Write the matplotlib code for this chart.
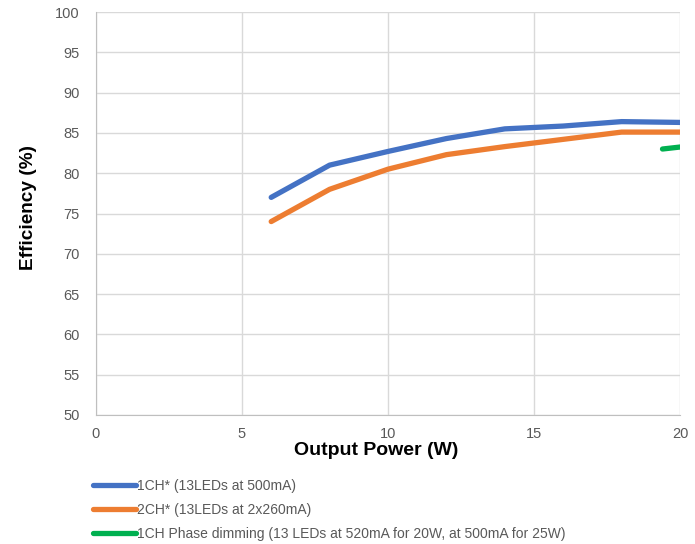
import matplotlib
matplotlib.use("Agg")
import matplotlib.pyplot as plt
from matplotlib.lines import Line2D

plt.rcParams['font.family'] = ['Liberation Sans', 'DejaVu Sans']

x_1ch = [6, 8, 10, 12, 14, 16, 18, 20]
y_1ch = [77.0, 81.0, 82.7, 84.3, 85.5, 85.85, 86.4, 86.3]
x_2ch = [6, 8, 10, 12, 14, 16, 18, 20]
y_2ch = [74.0, 78.0, 80.5, 82.3, 83.3, 84.2, 85.1, 85.1]
x_phase = [19.4, 25]
y_phase = [83.0, 85.3]

labels = ["1CH* (13LEDs at 500mA)",
          "2CH* (13LEDs at 2x260mA)",
          "1CH Phase dimming (13 LEDs at 520mA for 20W, at 500mA for 25W)"]
colors = ["#4472C4", "#ED7D31", "#00B050"]

fig = plt.figure(figsize=(6.95, 5.44), dpi=100)
ax = fig.add_axes([96/695, 1-415/544, (680-96)/695, (415-12)/544])

lw = 3.8
for xs, ys, c in [(x_1ch, y_1ch, colors[0]), (x_2ch, y_2ch, colors[1]), (x_phase, y_phase, colors[2])]:
    ax.plot(xs, ys, color=c, lw=lw, solid_capstyle='round', solid_joinstyle='round', zorder=3)

ax.set_xlim(0, 20)
ax.set_ylim(50, 100)
ax.set_xticks(range(0, 21, 5))
ax.set_yticks(range(50, 101, 5))
ax.grid(True, color='#D9D9D9', lw=1)
ax.set_axisbelow(True)
for s in ['top', 'right']:
    ax.spines[s].set_visible(False)
ax.spines['left'].set_color('#BFBFBF')
ax.spines['bottom'].set_color('#BFBFBF')
ax.tick_params(length=0, labelsize=10.5, colors='#595959')
ax.tick_params(axis='x', pad=9)
ax.tick_params(axis='y', pad=12)
ax.set_xlabel("Output Power (W)", fontsize=14, fontweight='bold')
ax.set_ylabel("Efficiency (%)", fontsize=13.7, fontweight='bold')
ax.xaxis.set_label_coords(0.479, -0.068)
ax.yaxis.set_label_coords(-0.101, 0.514)

handles = [Line2D([0], [0], color=c, lw=lw, solid_capstyle='round') for c in colors]
leg = fig.legend(handles, labels, loc='upper left', bbox_to_anchor=(93/695, 1-479/544),
                 frameon=False, fontsize=10, handlelength=3.1, handletextpad=0.05,
                 labelspacing=0.72, labelcolor='#595959', borderaxespad=0, borderpad=0)

fig.savefig("out.png", dpi=100)
